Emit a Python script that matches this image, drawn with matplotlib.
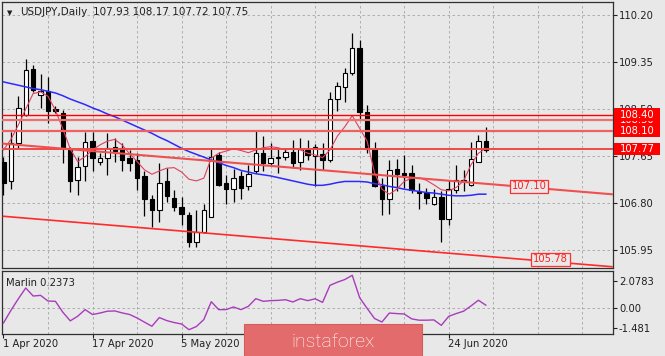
import matplotlib
matplotlib.use("Agg")
import matplotlib.pyplot as plt
import matplotlib.transforms as mtransforms
from matplotlib.patches import Rectangle

# USDJPY diario, barras desde el 1 abr 2020
opens = [107.55, 107.19, 107.88, 108.39, 109.23, 108.76, 108.83, 108.50, 108.42, 107.78,
         107.22, 107.47, 107.93, 107.54, 107.62, 107.81, 107.79, 107.61, 107.58, 107.28,
         106.87, 106.67, 107.19, 106.89, 106.73, 106.58, 106.10, 106.28, 106.55, 107.66,
         107.16, 107.05, 107.28, 107.11, 107.37, 107.71, 107.53, 107.62, 107.64, 107.73,
         107.55, 107.76, 107.65, 107.69, 107.58, 108.68, 108.90, 109.15, 109.60, 108.44,
         107.78, 107.11, 106.87, 107.41, 107.35, 107.34, 107.01, 106.98, 106.79, 106.90,
         106.51, 107.04, 107.19, 107.13, 107.55, 107.93]
highs = [107.64, 108.09, 108.74, 109.40, 109.30, 109.13, 109.08, 108.56, 108.49, 107.82,
         107.64, 108.09, 108.09, 107.70, 108.07, 107.97, 107.88, 107.76, 107.70, 107.37,
         106.94, 107.52, 107.44, 107.04, 106.91, 106.63, 106.67, 106.78, 107.79, 107.73,
         107.31, 107.41, 107.37, 107.49, 108.10, 108.01, 107.88, 107.79, 107.80, 107.94,
         107.97, 107.94, 107.86, 107.88, 108.81, 108.99, 109.24, 109.87, 109.75, 108.57,
         107.90, 107.25, 107.58, 107.59, 107.67, 107.49, 107.16, 107.07, 107.05, 107.02,
         107.22, 107.48, 107.40, 107.91, 108.03, 108.17]
lows = [106.94, 107.05, 107.79, 108.38, 108.80, 108.51, 108.24, 108.43, 107.52, 107.00,
        106.95, 107.20, 107.37, 107.49, 107.31, 107.55, 107.37, 107.37, 107.04, 106.57,
        106.37, 106.45, 106.82, 106.66, 106.41, 106.01, 106.01, 106.25, 106.54, 107.11,
        106.79, 106.81, 106.88, 107.04, 107.34, 107.37, 107.49, 107.34, 107.58, 107.43,
        107.39, 107.58, 107.10, 107.40, 107.55, 108.46, 108.63, 109.12, 108.30, 107.70,
        107.09, 106.58, 106.61, 107.01, 107.07, 106.98, 106.69, 106.79, 106.76, 106.10,
        106.40, 106.98, 107.01, 107.11, 107.55, 107.72]
closes = [107.16, 107.88, 108.52, 109.21, 108.84, 108.83, 108.46, 108.46, 107.79, 107.20,
          107.46, 107.91, 107.62, 107.62, 107.80, 107.74, 107.58, 107.52, 107.26, 106.87,
          106.67, 107.17, 106.93, 106.73, 106.60, 106.10, 106.27, 106.67, 107.64, 107.13,
          107.05, 107.25, 107.07, 107.32, 107.71, 107.53, 107.61, 107.63, 107.72, 107.53,
          107.77, 107.67, 107.82, 107.58, 108.68, 108.92, 109.15, 109.60, 108.44, 107.78,
          107.11, 106.87, 107.40, 107.32, 107.30, 107.04, 106.98, 106.89, 106.91, 106.52,
          107.05, 107.22, 107.22, 107.59, 107.93, 107.75]

ma_slow = [108.99, 108.96, 108.93, 108.90, 108.87, 108.85, 108.82, 108.79, 108.74, 108.68,
           108.63, 108.58, 108.52, 108.47, 108.41, 108.36, 108.30, 108.24, 108.18, 108.12,
           108.06, 107.99, 107.93, 107.86, 107.79, 107.73, 107.68, 107.63, 107.58, 107.53,
           107.48, 107.44, 107.39, 107.36, 107.33, 107.31, 107.29, 107.26, 107.23, 107.20,
           107.17, 107.14, 107.12, 107.12, 107.14, 107.17, 107.19, 107.19, 107.19, 107.18,
           107.15, 107.13, 107.10, 107.08, 107.05, 107.03, 107.01, 106.99, 106.98, 106.96,
           106.94, 106.93, 106.93, 106.94, 106.96, 106.96]
ma_fast = [107.76, 107.95, 108.21, 108.50, 108.78, 108.81, 108.73, 108.48, 108.14, 107.78,
           107.55, 107.64, 107.76, 107.85, 107.92, 107.95, 107.85, 107.69, 107.55, 107.40,
           107.32, 107.38, 107.43, 107.44, 107.36, 107.23, 107.20, 107.25, 107.61, 107.70,
           107.74, 107.78, 107.75, 107.71, 107.76, 107.80, 107.82, 107.80, 107.76, 107.79,
           107.76, 107.70, 107.67, 107.62, 107.76, 108.01, 108.18, 108.38, 108.15, 107.92,
           107.35, 107.05, 106.96, 107.05, 107.19, 107.25, 107.26, 107.21, 107.13, 107.04,
           107.02, 107.08, 107.20, 107.49, 107.70, 107.79]
marlin = [-1.11, -0.16, 0.72, 1.54, 0.93, 0.98, 0.55, 0.53, -0.30, -0.95,
          -0.60, -0.10, -0.47, -0.36, -0.22, -0.20, -0.35, -0.47, -0.73, -1.05,
          -1.36, -0.70, -0.93, -1.08, -1.19, -1.62, -1.38, -0.85, 0.50, -0.10,
          -0.10, 0.10, -0.10, 0.15, 0.73, 0.53, 0.58, 0.60, 0.65, 0.48,
          0.73, 0.58, 0.72, 0.45, 1.74, 1.98, 2.18, 2.50, 0.80, 0.00,
          -0.77, -1.04, -0.36, -0.40, -0.43, -0.80, -0.90, -0.90, -0.88, -1.29,
          -0.61, -0.40, -0.22, 0.18, 0.61, 0.2373]

price_ticks = [110.20, 109.35, 108.50, 107.65, 106.80, 105.95]
price_tick_labels = ["110.20", "109.35", "108.50", "107.65", "106.80", "105.95"]
levels = [108.40, 108.30, 108.10, 107.77]
level_labels = ["108.40", "108.30", "108.10", "107.77"]
trend_x = [0, 82]
trend_upper = [107.873, 106.958]
trend_lower = [106.560, 105.648]
trend_label_x = [70.8, 73.7]
trend_label_values = [107.10, 105.78]
trend_label_texts = ["107.10", "105.78"]
date_bars = [0, 12, 24, 60]
date_labels = ["1 Apr 2020", "17 Apr 2020", "5 May 2020", "24 Jun 2020"]
marlin_ticks = [2.0783, 0.0, -1.481]
marlin_tick_labels = ["2.0783", "0.00", "-1.481"]

W, H = 665, 356
BG = "#e8e8e8"
GRID = dict(color="#a4a4a4", lw=0.6, linestyle=(0, (3, 3)), zorder=0)

fig = plt.figure(figsize=(W / 100, H / 100), dpi=100, facecolor=BG)
ax = fig.add_axes([2 / W, 1 - 268 / H, 610.7 / W, 266 / H], facecolor=BG)
ax2 = fig.add_axes([2 / W, 1 - 333.5 / H, 610.7 / W, 62.5 / H], facecolor=BG, sharex=ax)

n = len(closes)
ax.set_xlim(-0.2, 82.1)
ax.set_ylim(105.625, 110.435)
ax2.set_ylim(-1.909, 2.826)

# Rejilla
for b in range(6, 83, 6):
    ax.axvline(b, **GRID)
    ax2.axvline(b, **GRID)
for p in price_ticks:
    ax.axhline(p, **GRID)
ax2.axhline(0.0, **GRID)

# Velas
for i in range(n):
    o, h, l, c = opens[i], highs[i], lows[i], closes[i]
    ax.vlines(i, l, h, color="black", lw=0.9, zorder=3)
    face = "white" if c >= o else "black"
    ax.add_patch(Rectangle((i - 0.3, min(o, c)), 0.6, max(abs(c - o), 0.015),
                           facecolor=face, edgecolor="black", lw=0.8, zorder=4))

xs = list(range(n))
ax.plot(xs, ma_slow, color="#2b2bff", lw=1.1, zorder=5)
ax.plot(xs, ma_fast, color="#e0405e", lw=0.8, zorder=5)

# Niveles y lineas de tendencia
level_colors = ["#ff0000", "#f07070", "#f06060", "#f04848"]
level_widths = [1.0, 1.6, 1.6, 1.4]
for lv, col, lw in zip(levels, level_colors, level_widths):
    ax.axhline(lv, color=col, lw=lw, zorder=6)
ax.plot(trend_x, trend_upper, color="#f05050", lw=1.5, zorder=6)
ax.plot(trend_x, trend_lower, color="#ff2a2a", lw=1.2, zorder=6)

for tx, tv, tt in zip(trend_label_x, trend_label_values, trend_label_texts):
    ax.text(tx, tv, tt, color="#ff2020", fontsize=7.2, ha="center", va="center", zorder=8,
            bbox=dict(boxstyle="square,pad=0.18", facecolor=BG, edgecolor="#ff3030", lw=0.9))

# Ejes
for a in (ax, ax2):
    for s in a.spines.values():
        s.set_color("#303030")
        s.set_linewidth(0.9)
    a.yaxis.tick_right()
    a.tick_params(axis="y", direction="out", length=3, pad=1.5, labelsize=7.2,
                  colors="#202020", width=0.8)

ax.set_yticks(price_ticks)
ax.set_yticklabels(price_tick_labels)
ax.tick_params(axis="x", bottom=False, labelbottom=False)

ax2.set_yticks(marlin_ticks)
ax2.set_yticklabels(marlin_tick_labels)
ax2.set_xticks(date_bars)
ax2.set_xticklabels([])
ax2.tick_params(axis="x", direction="out", length=3, width=0.8, colors="#202020")

trans2 = mtransforms.blended_transform_factory(ax2.transData, ax2.transAxes)
for b, lab in zip(date_bars, date_labels):
    ax2.text(b - 0.05, -0.215, lab, transform=trans2, fontsize=7.2, color="#202020",
             ha="left", va="baseline", clip_on=False)

# Etiquetas de niveles en la escala
trans = mtransforms.blended_transform_factory(ax.transAxes, ax.transData)
order = [1, 0, 2, 3]
for k, idx in enumerate(order):
    lv = levels[idx]
    ax.add_patch(Rectangle((1.002, lv - 0.11), 0.076, 0.22, transform=trans, facecolor="#ff0000",
                           edgecolor="none", clip_on=False, zorder=20 + 2 * k))
    ax.text(1.011, lv, level_labels[idx], transform=trans, color="white", fontsize=7.2,
            ha="left", va="center", clip_on=False, zorder=21 + 2 * k)

ax2.plot(xs, marlin, color="#a83cbc", lw=1.0, zorder=4)

# Textos
fig.text(7 / W, 1 - 15 / H, "\u25bc", fontsize=5, color="#202020", va="baseline")
fig.text(20 / W, 1 - 15.3 / H, "USDJPY,Daily", fontsize=7.5, color="#202020", va="baseline")
fig.text(92.7 / W, 1 - 15.3 / H, "107.93 108.17 107.72 107.75", fontsize=7.5, color="#202020",
         va="baseline")
fig.text(6.4 / W, 1 - 285.5 / H, "Marlin 0.2373", fontsize=7.2, color="#202020", va="baseline")

# Logo
fig.patches.append(Rectangle((244 / W, 0), 178 / W, 32 / H, transform=fig.transFigure,
                             facecolor="#e36b6b", edgecolor="#d65c5c", lw=0.8, zorder=30))
fig.text(333 / W, 1 - 347 / H, "instaforex", fontsize=14, color="white", ha="center",
         va="baseline", family=["Roboto", "DejaVu Sans"], weight="light", zorder=31)

fig.savefig("out.png", dpi=100, facecolor=BG)
